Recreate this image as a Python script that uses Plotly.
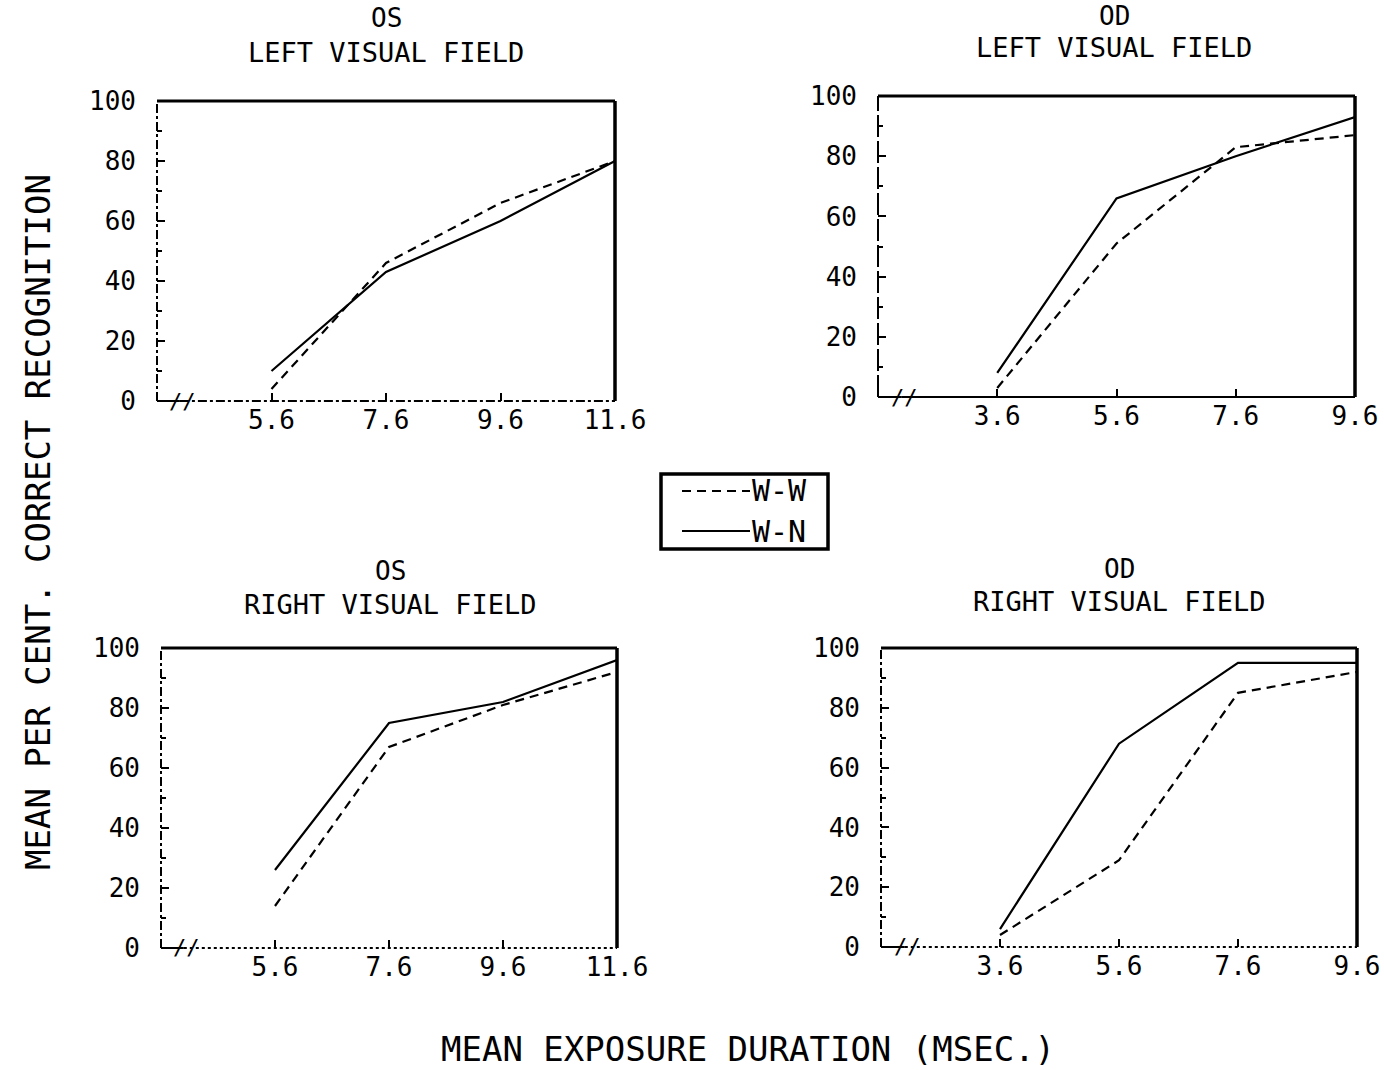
import plotly.graph_objects as go

# Exposure durations (msec) at which recognition was measured
x_left_panels = [5.6, 7.6, 9.6, 11.6]
x_right_panels = [3.6, 5.6, 7.6, 9.6]

# Mean per cent correct recognition, W-W (dashed) and W-N (solid)
os_lvf_ww = [4, 46, 66, 80]
os_lvf_wn = [10, 43, 60, 80]
od_lvf_ww = [3, 51, 83, 87]
od_lvf_wn = [8, 66, 80, 93]
os_rvf_ww = [14, 67, 81, 92]
os_rvf_wn = [26, 75, 82, 96]
od_rvf_ww = [4, 29, 85, 92]
od_rvf_wn = [6, 68, 95, 95]

y_ticks = [0, 20, 40, 60, 80, 100]
left_x_ticks = ["5.6", "7.6", "9.6", "11.6"]
right_x_ticks = ["3.6", "5.6", "7.6", "9.6"]
series_names = ["W-W", "W-N"]

FONT = "DejaVu Sans Mono"
W, H = 1384, 1070
WW_DASH = "9px,6px"

# per panel: pixel box, data, tick text, x range, titles and frame styles
panels = [
    dict(px=(157, 615), py=(101, 401), x=x_left_panels, ww=os_lvf_ww, wn=os_lvf_wn,
         tt=left_x_ticks, rng=[3.6, 11.6], t1="OS", t2="LEFT VISUAL FIELD",
         ty1=18, ty2=52, tcx=386, left="dashdot", bottom="dashdot"),
    dict(px=(878, 1355), py=(96, 397), x=x_right_panels, ww=od_lvf_ww, wn=od_lvf_wn,
         tt=right_x_ticks, rng=[1.6, 9.6], t1="OD", t2="LEFT VISUAL FIELD",
         ty1=16, ty2=48, tcx=1114, left="22px,4px", bottom="solid"),
    dict(px=(161, 617), py=(648, 948), x=x_left_panels, ww=os_rvf_ww, wn=os_rvf_wn,
         tt=left_x_ticks, rng=[3.6, 11.6], t1="OS", t2="RIGHT VISUAL FIELD",
         ty1=571, ty2=604, tcx=390, left="dashdot", bottom="dot"),
    dict(px=(881, 1357), py=(648, 947), x=x_right_panels, ww=od_rvf_ww, wn=od_rvf_wn,
         tt=right_x_ticks, rng=[1.6, 9.6], t1="OD", t2="RIGHT VISUAL FIELD",
         ty1=569, ty2=601, tcx=1119, left="dashdot", bottom="dot"),
]

fig = go.Figure()
layout = dict(
    width=W, height=H,
    margin=dict(l=0, r=0, t=0, b=0, autoexpand=False),
    paper_bgcolor="white", plot_bgcolor="white",
    font=dict(family=FONT, color="black", size=24),
    showlegend=False,
)
annotations = []
shapes = []

for i, p in enumerate(panels):
    n = "" if i == 0 else str(i + 1)
    xa, ya = "x" + n, "y" + n
    fig.add_trace(go.Scatter(
        x=p["x"], y=p["ww"], mode="lines", name=series_names[0],
        line=dict(color="black", width=2.2, dash=WW_DASH),
        xaxis=xa, yaxis=ya,
    ))
    fig.add_trace(go.Scatter(
        x=p["x"], y=p["wn"], mode="lines", name=series_names[1],
        line=dict(color="black", width=2.2),
        xaxis=xa, yaxis=ya,
    ))
    xd = [p["px"][0] / W, p["px"][1] / W]
    yd = [1 - p["py"][1] / H, 1 - p["py"][0] / H]
    layout["xaxis" + n] = dict(
        domain=xd, range=p["rng"], anchor=ya, automargin=False,
        tickvals=[float(t) for t in p["tt"]], ticktext=p["tt"],
        ticks="inside", ticklen=8, tickwidth=2, tickcolor="black",
        showgrid=False, zeroline=False, showline=False,
        tickfont=dict(family=FONT, size=26, color="black"),
        ticklabelstandoff=1,
    )
    layout["yaxis" + n] = dict(
        domain=yd, range=[0, 100], anchor=xa, automargin=False,
        tickvals=y_ticks, ticks="inside", ticklen=8, tickwidth=2, tickcolor="black",
        minor=dict(dtick=10, ticks="inside", ticklen=5, tickwidth=1.5, tickcolor="black"),
        showgrid=False, zeroline=False, showline=False,
        tickfont=dict(family=FONT, size=26, color="black"),
        ticklabelstandoff=20,
    )
    # frame: solid top and right, broken left and bottom
    xr, yr = xa + " domain", ya + " domain"
    shapes += [
        dict(type="line", xref=xr, yref=yr, x0=0, x1=1, y0=1, y1=1,
             line=dict(color="black", width=3)),
        dict(type="line", xref=xr, yref=yr, x0=1, x1=1, y0=0, y1=1,
             line=dict(color="black", width=3.5)),
        dict(type="line", xref=xr, yref=yr, x0=0, x1=0, y0=0, y1=1,
             line=dict(color="black", width=2, dash=p["left"])),
        dict(type="line", xref=xr, yref=yr, x0=0.05, x1=1, y0=0, y1=0,
             line=dict(color="black", width=2, dash=p["bottom"])),
        dict(type="line", xref=xr, yref=yr, x0=0, x1=0.05, y0=0, y1=0,
             line=dict(color="black", width=2)),
    ]
    # axis break mark
    annotations.append(dict(
        text="//", xref=xr, yref=yr, x=0.055, y=0, showarrow=False,
        xanchor="center", yanchor="middle",
        font=dict(family=FONT, size=22, color="black"),
    ))
    # panel titles
    annotations.append(dict(
        text=p["t1"], xref="paper", yref="paper", x=p["tcx"] / W, y=1 - p["ty1"] / H,
        xanchor="center", yanchor="middle", showarrow=False,
        font=dict(family=FONT, size=26, color="black"),
    ))
    annotations.append(dict(
        text=p["t2"], xref="paper", yref="paper", x=p["tcx"] / W, y=1 - p["ty2"] / H,
        xanchor="center", yanchor="middle", showarrow=False,
        font=dict(family=FONT, size=27, color="black"),
    ))

# key box between the panels
shapes.append(dict(type="rect", xref="paper", yref="paper",
                   x0=661 / W, x1=828 / W, y0=1 - 549 / H, y1=1 - 474 / H,
                   line=dict(color="black", width=3.5), fillcolor="white"))
key_rows = [(series_names[0], WW_DASH, 491), (series_names[1], "solid", 531)]
for name, dash, ky in key_rows:
    shapes.append(dict(type="line", xref="paper", yref="paper",
                       x0=682 / W, x1=750 / W, y0=1 - ky / H, y1=1 - ky / H,
                       line=dict(color="black", width=2.2, dash=dash)))
    annotations.append(dict(
        text=name, xref="paper", yref="paper", x=750 / W, y=1 - ky / H,
        xanchor="left", yanchor="middle", showarrow=False,
        font=dict(family=FONT, size=30, color="black"),
    ))

annotations.append(dict(
    text="MEAN PER CENT. CORRECT RECOGNITION", xref="paper", yref="paper",
    x=38 / W, y=1 - 522 / H, textangle=-90, showarrow=False,
    xanchor="center", yanchor="middle",
    font=dict(family=FONT, size=34, color="black"),
))
annotations.append(dict(
    text="MEAN EXPOSURE DURATION (MSEC.)", xref="paper", yref="paper",
    x=748 / W, y=0, showarrow=False, borderpad=0,
    xanchor="center", yanchor="bottom",
    font=dict(family=FONT, size=34, color="black"),
))

layout["annotations"] = annotations
layout["shapes"] = shapes
fig.update_layout(**layout)
fig.write_html("out.html")
